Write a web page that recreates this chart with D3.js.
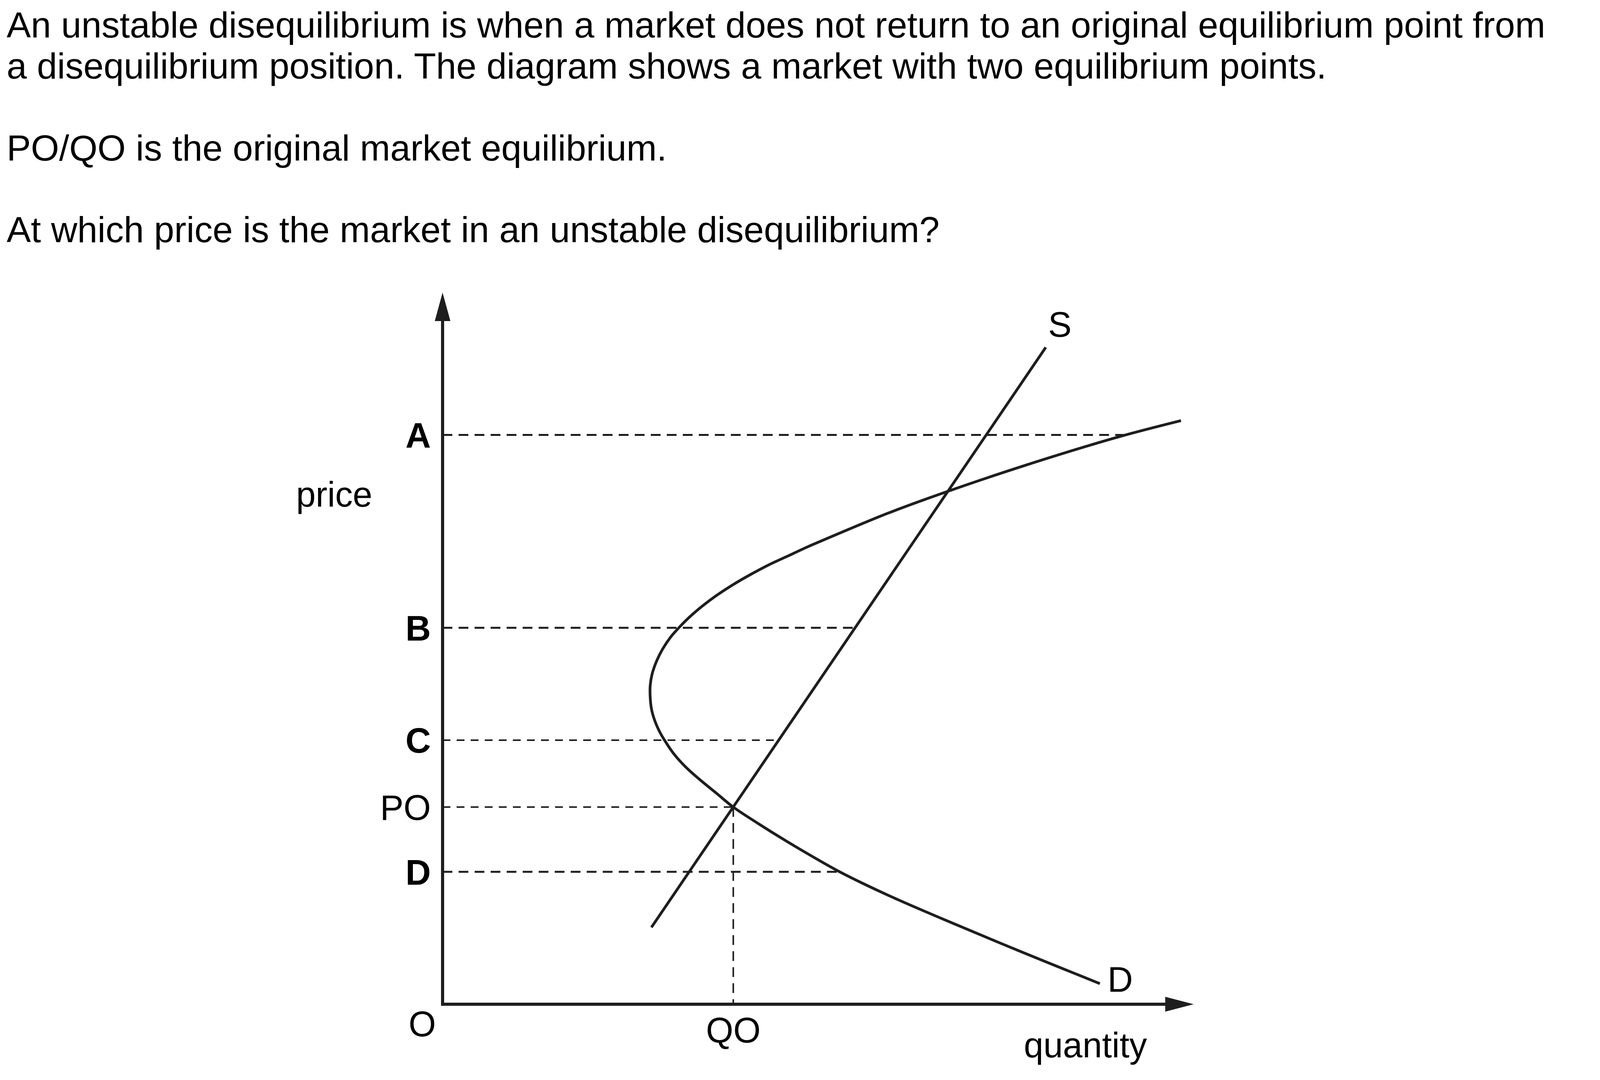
<!DOCTYPE html>
<html>
<head>
<meta charset="utf-8">
<script src="https://cdn.jsdelivr.net/npm/d3@7"></script>
<style>
  body { margin: 0; background: #fff; }
  text { font-family: "Liberation Sans", Arial, sans-serif; fill: #000; }
</style>
</head>
<body>
<div id="chart"></div>
<script>
// question text above the diagram
var questionLines = [
    "An unstable disequilibrium is when a market does not return to an original equilibrium point from",
    "a disequilibrium position. The diagram shows a market with two equilibrium points.",
    "PO/QO is the original market equilibrium.",
    "At which price is the market in an unstable disequilibrium?"
];

// price levels marked on the vertical axis
var priceLabels = ["A", "B", "C", "PO", "D"];
var priceLevels = [80, 52.9, 37.1, 27.7, 18.6];
// quantity where each dashed guide meets a curve
var guideEnds = [90.9, 55, 44.5, 38.7, 52.9];

// original equilibrium quantity
var qoLabel = "QO";
var qoValue = 38.7;

// supply line (two end points)
var supplyQ = [27.8, 80.3];
var supplyP = [10.8, 92.3];

// backward bending demand curve, traced from top right to bottom right
var demandQ = [98.3, 89.6, 77.2, 66.8, 59.3, 50.98, 48.55, 45.95, 43.35, 40.74, 38.66, 36.40,
    34.67, 32.94, 31.55, 30.33, 29.29, 28.51, 27.90, 27.64, 27.64, 27.81, 28.25, 28.85, 29.55,
    30.7, 32.3, 34.2, 36.4, 38.7, 42.0, 45.8, 49.5, 52.7, 56.5, 60.6, 67.2, 77.2, 87.5];
var demandP = [82.0, 79.6, 75.6, 71.9, 69.0, 65.35, 64.25, 62.97, 61.70, 60.23, 58.95, 57.39,
    56.02, 54.47, 53.01, 51.55, 49.90, 48.26, 46.42, 44.78, 43.13, 41.49, 39.84, 38.38, 37.10,
    35.3, 33.4, 31.6, 29.7, 27.7, 25.4, 22.9, 20.6, 18.7, 16.7, 14.7, 11.7, 7.3, 2.9];

var W = 4201, H = 2765;
var fs = 90;
var lineColor = "#1e1e1e";

var svg = d3.select("#chart")
    .append("svg")
    .attr("width", W)
    .attr("height", H)
    .style("background", "#fff");

// question text
var textBaselines = [96, 201, 411, 620];
svg.selectAll(".question")
    .data(questionLines)
    .enter()
    .append("text")
    .attr("class", "question")
    .attr("x", 17)
    .attr("y", function (d, i) { return textBaselines[i]; })
    .attr("font-size", 93)
    .text(function (d) { return d; });

// scales, the axes run from 0 to 100 on both directions
var x = d3.scaleLinear().domain([0, 100]).range([1133, 3056]);
var y = d3.scaleLinear().domain([0, 100]).range([2571, 749]);

// dashed guides from the price axis
var guides = priceLabels.map(function (l, i) {
    return { label: l, p: priceLevels[i], end: guideEnds[i] };
});
svg.selectAll(".guide")
    .data(guides)
    .enter()
    .append("line")
    .attr("class", "guide")
    .attr("x1", x(0))
    .attr("x2", function (d) { return x(d.end); })
    .attr("y1", function (d) { return y(d.p); })
    .attr("y2", function (d) { return y(d.p); })
    .attr("stroke", lineColor)
    .attr("stroke-width", function (d) { return (d.label == "C" || d.label == "PO") ? 4 : 5; })
    .attr("stroke-dasharray", function (d) { return (d.label == "C" || d.label == "PO") ? "20,16" : "25,16"; });

// vertical guide down to QO
svg.append("line")
    .attr("x1", x(qoValue))
    .attr("x2", x(qoValue))
    .attr("y1", y(priceLevels[3]))
    .attr("y2", y(0))
    .attr("stroke", lineColor)
    .attr("stroke-width", 4)
    .attr("stroke-dasharray", "25,16");

// price labels
svg.selectAll(".plabel")
    .data(guides)
    .enter()
    .append("text")
    .attr("class", "plabel")
    .attr("x", x(0) - 30)
    .attr("y", function (d) { return y(d.p) + fs * 0.36; })
    .attr("text-anchor", "end")
    .attr("font-size", fs)
    .attr("font-weight", function (d) { return d.label == "PO" ? "normal" : "bold"; })
    .text(function (d) { return d.label; });

// supply line
var supply = supplyQ.map(function (q, i) { return { q: q, p: supplyP[i] }; });
svg.append("path")
    .datum(supply)
    .attr("fill", "none")
    .attr("stroke", lineColor)
    .attr("stroke-width", 7)
    .attr("d", d3.line()
        .x(function (d) { return x(d.q); })
        .y(function (d) { return y(d.p); })
    );

// demand curve
var demand = demandQ.map(function (q, i) { return { q: q, p: demandP[i] }; });
svg.append("path")
    .datum(demand)
    .attr("fill", "none")
    .attr("stroke", lineColor)
    .attr("stroke-width", 7)
    .attr("d", d3.line()
        .curve(d3.curveCatmullRom.alpha(0.5))
        .x(function (d) { return x(d.q); })
        .y(function (d) { return y(d.p); })
    );

// axes with arrow heads
svg.append("line")
    .attr("x1", x(0)).attr("y1", y(0) + 4)
    .attr("x2", x(0)).attr("y2", y(96))
    .attr("stroke", lineColor)
    .attr("stroke-width", 8);
svg.append("line")
    .attr("x1", x(0) - 4).attr("y1", y(0))
    .attr("x2", x(97)).attr("y2", y(0))
    .attr("stroke", lineColor)
    .attr("stroke-width", 8);
svg.append("path")
    .attr("d", "M" + x(0) + "," + y(100) + " L" + (x(0) - 20) + "," + (y(100) + 73) + " L" + (x(0) + 20) + "," + (y(100) + 73) + " Z")
    .attr("fill", lineColor);
svg.append("path")
    .attr("d", "M" + x(100) + "," + y(0) + " L" + (x(100) - 73) + "," + (y(0) - 19) + " L" + (x(100) - 73) + "," + (y(0) + 19) + " Z")
    .attr("fill", lineColor);

// axis titles and curve names
svg.append("text")
    .attr("x", 758).attr("y", 1297)
    .attr("font-size", fs)
    .text("price");
svg.append("text")
    .attr("x", 2621).attr("y", 2707)
    .attr("font-size", fs)
    .text("quantity");
svg.append("text")
    .attr("x", x(0) - 52).attr("y", 2653)
    .attr("text-anchor", "middle")
    .attr("font-size", fs)
    .text("O");
svg.append("text")
    .attr("x", x(qoValue)).attr("y", 2669)
    .attr("text-anchor", "middle")
    .attr("font-size", fs)
    .text(qoLabel);
svg.append("text")
    .attr("x", x(supplyQ[1]) + 36).attr("y", y(supplyP[1]) - 27)
    .attr("text-anchor", "middle")
    .attr("font-size", fs)
    .text("S");
svg.append("text")
    .attr("x", x(demandQ[demandQ.length - 1]) + 52).attr("y", y(demandP[demandP.length - 1]) + 21)
    .attr("text-anchor", "middle")
    .attr("font-size", fs)
    .text("D");
</script>
</body>
</html>
